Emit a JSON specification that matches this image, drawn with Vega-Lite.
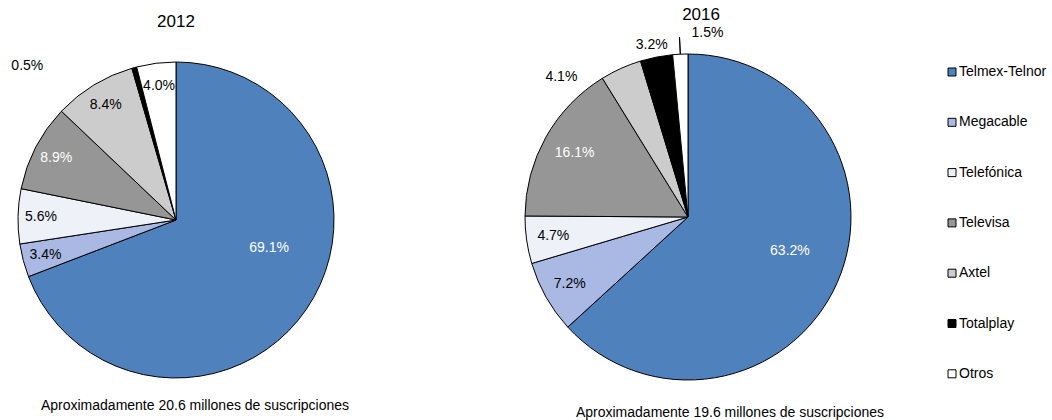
{
  "$schema": "https://vega.github.io/schema/vega-lite/v6.json",
  "padding": {"top": 6, "left": 0, "right": 0, "bottom": 0},
  "background": "white",
  "bounds": "flush",
  "datasets": {
    "s2012": [
      {"empresa": "Telmex-Telnor", "orden": 1, "share": 0.691},
      {"empresa": "Megacable", "orden": 2, "share": 0.034},
      {"empresa": "Telefónica", "orden": 3, "share": 0.056},
      {"empresa": "Televisa", "orden": 4, "share": 0.089},
      {"empresa": "Axtel", "orden": 5, "share": 0.084},
      {"empresa": "Totalplay", "orden": 6, "share": 0.005},
      {"empresa": "Otros", "orden": 7, "share": 0.040}
    ],
    "s2016": [
      {"empresa": "Telmex-Telnor", "orden": 1, "share": 0.632},
      {"empresa": "Megacable", "orden": 2, "share": 0.072},
      {"empresa": "Telefónica", "orden": 3, "share": 0.047},
      {"empresa": "Televisa", "orden": 4, "share": 0.161},
      {"empresa": "Axtel", "orden": 5, "share": 0.041},
      {"empresa": "Totalplay", "orden": 6, "share": 0.032},
      {"empresa": "Otros", "orden": 7, "share": 0.015}
    ]
  },
  "spacing": 518,
  "hconcat": [
    {
      "title": {"text": "2012", "fontSize": 17, "offset": 22, "anchor": "middle"},
      "vconcat": [
        {
          "width": 352,
          "height": 334,
          "title": {"text": "Aproximadamente 20.6 millones de suscripciones", "orient": "bottom", "offset": 12, "dx": 19, "fontSize": 14, "anchor": "middle"},
          "data": {"name": "s2012"},
          "encoding": {
            "theta": {"field": "share", "type": "quantitative", "stack": true},
            "order": {"field": "orden", "type": "quantitative"}
          },
          "layer": [
            {
              "mark": {"type": "arc", "outerRadius": 158, "stroke": "black", "strokeWidth": 1},
              "encoding": {
                "color": {"field": "empresa", "type": "nominal", "scale": {"domain": ["Telmex-Telnor", "Megacable", "Telefónica", "Televisa", "Axtel", "Totalplay", "Otros"], "range": ["#4F81BD", "#A9B9E3", "#EEF1F8", "#969696", "#CCCCCC", "#000000", "#FFFFFF"]}}
              }
            },
            {
              "mark": {"type": "text", "radius": 135, "fontSize": 14, "color": "black"},
              "encoding": {
                "text": {"condition": {"test": "indexof(['Megacable','Telefónica','Axtel','Otros'], datum.empresa) >= 0", "field": "share", "format": ".1%"}, "value": ""}
              }
            },
            {
              "mark": {"type": "text", "radius": 135, "fontSize": 14, "color": "white"},
              "encoding": {
                "text": {"condition": {"test": "datum.empresa === 'Televisa'", "field": "share", "format": ".1%"}, "value": ""}
              }
            },
            {
              "mark": {"type": "text", "radius": 96, "fontSize": 14, "color": "white", "dx": 14, "dy": -26},
              "encoding": {
                "text": {"condition": {"test": "datum.empresa === 'Telmex-Telnor'", "field": "share", "format": ".1%"}, "value": ""}
              }
            },
            {
              "transform": [
                {"stack": "share", "groupby": [], "sort": [{"field": "orden", "order": "ascending"}], "as": ["s0", "s1"]},
                {"filter": "datum.empresa === 'Totalplay'"}
              ],
              "mark": {"type": "text", "radius": 160, "fontSize": 14, "color": "black", "dx": -104, "dy": 0},
              "encoding": {
                "theta": {"field": "s0", "type": "quantitative", "stack": null},
                "text": {"field": "share", "type": "quantitative", "format": ".1%"}
              }
            }
          ]
        }
      ]
    },
    {
      "title": {"text": "2016", "fontSize": 17, "offset": 2, "anchor": "middle"},
      "vconcat": [
        {
          "width": 340,
          "height": 328,
          "title": {"text": "Aproximadamente 19.6 millones de suscripciones", "orient": "bottom", "offset": 24, "dx": 42, "fontSize": 14, "anchor": "middle"},
          "data": {"name": "s2016"},
          "encoding": {
            "theta": {"field": "share", "type": "quantitative", "stack": true},
            "order": {"field": "orden", "type": "quantitative"}
          },
          "layer": [
            {
              "mark": {"type": "arc", "outerRadius": 163, "stroke": "black", "strokeWidth": 1},
              "encoding": {
                "color": {"field": "empresa", "type": "nominal", "scale": {"domain": ["Telmex-Telnor", "Megacable", "Telefónica", "Televisa", "Axtel", "Totalplay", "Otros"], "range": ["#4F81BD", "#A9B9E3", "#EEF1F8", "#969696", "#CCCCCC", "#000000", "#FFFFFF"]}}
              }
            },
            {
              "mark": {"type": "text", "radius": 136, "fontSize": 14, "color": "black"},
              "encoding": {
                "text": {"condition": {"test": "indexof(['Megacable','Telefónica'], datum.empresa) >= 0", "field": "share", "format": ".1%"}, "value": ""}
              }
            },
            {
              "mark": {"type": "text", "radius": 130, "fontSize": 14, "color": "white"},
              "encoding": {
                "text": {"condition": {"test": "datum.empresa === 'Televisa'", "field": "share", "format": ".1%"}, "value": ""}
              }
            },
            {
              "mark": {"type": "text", "radius": 107, "fontSize": 14, "color": "white", "dx": 4, "dy": -9},
              "encoding": {
                "text": {"condition": {"test": "datum.empresa === 'Telmex-Telnor'", "field": "share", "format": ".1%"}, "value": ""}
              }
            },
            {
              "transform": [
                {"stack": "share", "groupby": [], "sort": [{"field": "orden", "order": "ascending"}], "as": ["s0", "s1"]},
                {"filter": "datum.empresa === 'Axtel'"}
              ],
              "mark": {"type": "text", "radius": 163, "fontSize": 14, "color": "black", "dx": -41, "dy": -1},
              "encoding": {
                "theta": {"field": "s0", "type": "quantitative", "stack": null},
                "text": {"field": "share", "type": "quantitative", "format": ".1%"}
              }
            },
            {
              "transform": [
                {"stack": "share", "groupby": [], "sort": [{"field": "orden", "order": "ascending"}], "as": ["s0", "s1"]},
                {"filter": "datum.empresa === 'Totalplay'"}
              ],
              "mark": {"type": "text", "radius": 176, "fontSize": 14, "color": "black", "dx": 15, "dy": -4},
              "encoding": {
                "theta": {"field": "s0", "type": "quantitative", "stack": null},
                "text": {"field": "share", "type": "quantitative", "format": ".1%"}
              }
            },
            {
              "transform": [
                {"stack": "share", "groupby": [], "sort": [{"field": "orden", "order": "ascending"}], "as": ["s0", "s1"]},
                {"filter": "datum.empresa === 'Otros'"}
              ],
              "mark": {"type": "text", "radius": 163, "fontSize": 14, "color": "black", "dx": 19.5, "dy": -21},
              "encoding": {
                "theta": {"field": "s1", "type": "quantitative", "stack": null},
                "text": {"field": "share", "type": "quantitative", "format": ".1%"}
              }
            },
            {
              "transform": [
                {"stack": "share", "groupby": [], "sort": [{"field": "orden", "order": "ascending"}], "as": ["s0", "s1"]},
                {"filter": "datum.empresa === 'Otros'"}
              ],
              "mark": {"type": "arc", "innerRadius": 163, "outerRadius": 180, "padAngle": 0.3, "stroke": "black", "strokeWidth": 1, "fill": "black"},
              "encoding": {
                "theta": {"field": "s0", "type": "quantitative", "stack": null},
                "theta2": {"field": "s1"}
              }
            }
          ]
        }
      ]
    }
  ],
  "resolve": {"scale": {"color": "shared"}},
  "config": {
    "font": "Liberation Sans, Arial, sans-serif",
    "view": {"stroke": null},
    "title": {"fontWeight": "normal", "color": "black"},
    "legend": {
      "title": null,
      "orient": "right",
      "offset": 48,
      "symbolType": "square",
      "symbolSize": 64,
      "symbolStrokeColor": "black",
      "symbolStrokeWidth": 1,
      "symbolOpacity": 1,
      "labelFontSize": 14,
      "labelColor": "black",
      "labelOffset": 0,
      "rowPadding": 36.3,
      "padding": 12
    }
  }
}
